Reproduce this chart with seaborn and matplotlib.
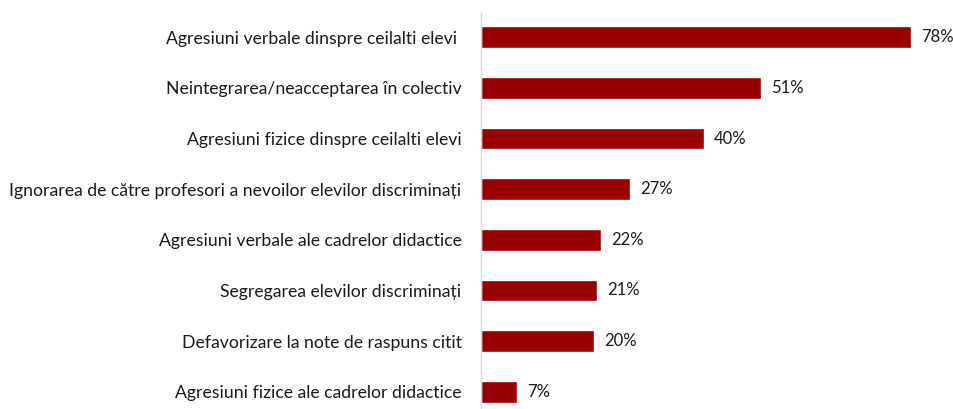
import matplotlib
matplotlib.use("Agg")
import matplotlib.pyplot as plt
import seaborn as sns
import pandas as pd

# Categories and values (percent)
categories = [
    "Agresiuni verbale dinspre ceilalti elevi ",
    "Neintegrarea/neacceptarea în colectiv",
    "Agresiuni fizice dinspre ceilalti elevi",
    "Ignorarea de către profesori a nevoilor elevilor discriminați",
    "Agresiuni verbale ale cadrelor didactice",
    "Segregarea elevilor discriminați",
    "Defavorizare la note de raspuns citit",
    "Agresiuni fizice ale cadrelor didactice",
]
values = [78.0, 50.8, 40.5, 27.1, 21.8, 21.0, 20.5, 6.5]
value_labels = ["78%", "51%", "40%", "27%", "22%", "21%", "20%", "7%"]

df = pd.DataFrame({"cat": categories, "val": values})

sns.set_style("white")
plt.rcParams["font.family"] = ["Lato", "DejaVu Sans"]

W, H = 954, 409
fig = plt.figure(figsize=(W / 100, H / 100), dpi=100)
px_per_unit = 430 / 78
xmax = 86
ax = fig.add_axes([481 / W, 1 - 12 / H - 405 / H, xmax * px_per_unit / W, 405 / H])

sns.barplot(data=df, x="val", y="cat", color="#990000", width=0.43,
            saturation=1, ax=ax, orient="h")

for p, lab in zip(ax.patches, value_labels):
    ax.text(p.get_width() + 1.8, p.get_y() + p.get_height() / 2, lab,
            va="center", ha="left", fontsize=12, color="#1a1a1a")

ax.set_xlim(0, xmax)
ax.set_ylim(7.5, -0.5)
ax.set_xlabel("")
ax.set_ylabel("")
ax.set_xticks([])
for s in ["top", "right", "bottom"]:
    ax.spines[s].set_visible(False)
ax.spines["left"].set_color("#d9d9d9")
ax.spines["left"].set_linewidth(1)
ax.tick_params(axis="y", length=0, pad=14, labelsize=12.7, labelcolor="#1a1a1a")

fig.savefig("out.png", dpi=100)
